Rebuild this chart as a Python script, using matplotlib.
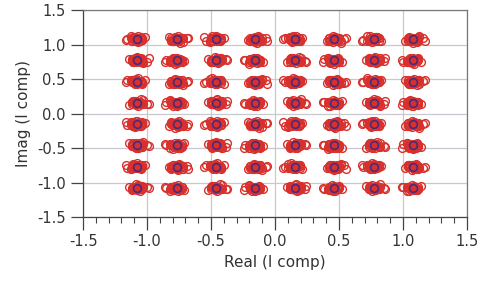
import matplotlib.pyplot as plt
from matplotlib.ticker import MultipleLocator

plt.rcParams['axes.unicode_minus'] = False

# 64-QAM ideal levels (same on both axes)
levels = [-1.078, -0.77, -0.462, -0.154, 0.154, 0.462, 0.77, 1.078]

# scatter of received points around each ideal point
dx = [0.00, 0.02, -0.03, 0.04, -0.01, 0.04, -0.04, 0.02, -0.02, 0.03,
      0.05, -0.04, 0.01, -0.01, 0.02, -0.03, 0.03, 0.08, -0.06, 0.01,
      0.04, -0.02, 0.00, 0.03, -0.03, 0.05, -0.01, 0.09, 0.01, -0.04]
dy = [0.02, -0.02, 0.01, 0.03, -0.03, -0.01, 0.02, 0.03, -0.02, 0.00,
      0.02, -0.01, -0.03, 0.02, 0.01, -0.02, 0.04, 0.00, 0.01, -0.04,
      0.01, 0.03, -0.01, -0.02, 0.03, 0.01, -0.02, -0.01, 0.05, 0.02]

rx = []
ry = []
n = len(dx)
for i, xc in enumerate(levels):
    for j, yc in enumerate(levels):
        k = (i * 7 + j * 11) % n
        sx = 1 if (i + j) % 2 == 0 else -1
        sy = 1 if i % 2 == 0 else -1
        for m in range(30):
            rx.append(xc + sx * dx[(k + m) % n])
            ry.append(yc + sy * dy[(k + 7 * m) % n])

ix = [x for x in levels for y in levels]
iy = [y for x in levels for y in levels]

fig = plt.figure(figsize=(4.83, 2.86), dpi=100)
ax = fig.add_axes([0.172, 0.241, 0.795, 0.724])

ax.plot(rx, ry, 'o', mfc='none', mec='#d8302c', ms=5.6, mew=1.0, zorder=3)
ax.plot(ix, iy, 'o', mfc='none', mec='#4a2a7a', ms=5.6, mew=1.2, zorder=4)

ax.set_xlim(-1.5, 1.5)
ax.set_ylim(-1.5, 1.5)
ax.xaxis.set_major_locator(MultipleLocator(0.5))
ax.xaxis.set_minor_locator(MultipleLocator(0.1))
ax.yaxis.set_major_locator(MultipleLocator(0.5))
ax.xaxis.set_major_formatter('{x:.1f}')
ax.yaxis.set_major_formatter('{x:.1f}')
ax.grid(True, which='major', color='#c8c8d0', lw=0.9)
ax.set_axisbelow(True)

ax.tick_params(axis='both', which='major', direction='out', length=9, width=0.9,
               color='#444444', labelsize=10.5, labelcolor='#333333')
ax.tick_params(axis='x', which='minor', direction='out', length=4, width=0.8, color='#444444')

for s in ax.spines.values():
    s.set_color('#777777')
    s.set_linewidth(0.9)
ax.spines['left'].set_color('#444444')
ax.spines['bottom'].set_color('#444444')

ax.set_xlabel('Real (I comp)', fontsize=11, color='#333333')
ax.set_ylabel('Imag (I comp)', fontsize=11, color='#333333')

fig.savefig('out.png', dpi=100)
